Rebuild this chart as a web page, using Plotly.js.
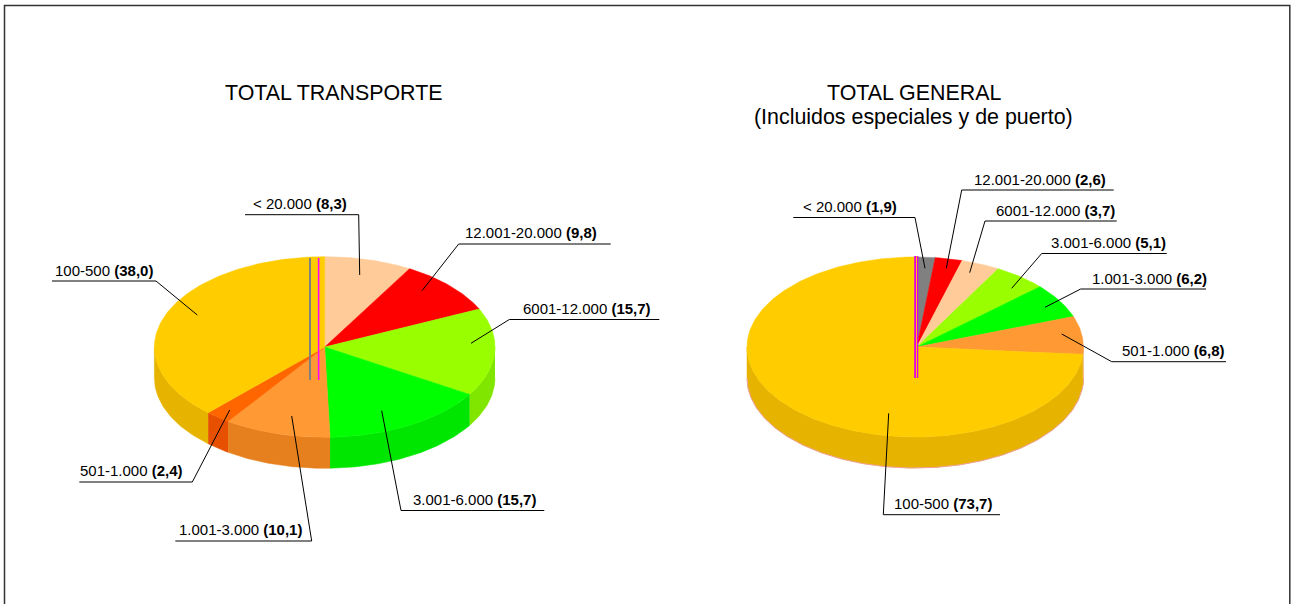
<!DOCTYPE html>
<html>
<head>
<meta charset="utf-8">
<script src="https://cdn.plot.ly/plotly-3.0.1.min.js"></script>
<style>html,body{margin:0;padding:0;background:#fff}#chart{width:1291px;height:604px}</style>
</head>
<body>
<div id="chart"></div>
<script>
// ---- data ----
const categories = ['< 20.000', '12.001-20.000', '6001-12.000', '3.001-6.000', '1.001-3.000', '501-1.000', '100-500'];
const valuesTransporte = [8.3, 9.8, 15.7, 15.7, 10.1, 2.4, 38.0];
const valuesGeneral = [1.9, 2.6, 3.7, 5.1, 6.2, 6.8, 73.7];
const titleTransporte = 'TOTAL TRANSPORTE';
const titleGeneral = 'TOTAL GENERAL';
const subtitleGeneral = '(Incluidos especiales y de puerto)';

// ---- styles ----
const topColorsTransporte = ['#FFCC99', '#FF0000', '#99FF00', '#00FF00', '#FF9933', '#FF6600', '#FFCC00'];
const rimColorsTransporte = ['#E6B89C', '#E60000', '#80E600', '#00E600', '#E6801E', '#E65000', '#E6B400'];
const topColorsGeneral = ['#808080', '#FF0000', '#FFCC99', '#99FF00', '#00FF00', '#FF9933', '#FFCC00'];
const rimColorsGeneral = ['#737373', '#E60000', '#E6B89C', '#80E600', '#00E600', '#E6801E', '#E6B400'];

// ---- layout geometry (pixels of the axis frame) ----
const pieTransporte = {cx: 324.7, cy: 347, rx: 170.3, ry: 90.3, depth: 31, apexDx: 0, rimEdge: null};
const pieGeneral = {cx: 915.2, cy: 347, rx: 168.2, ry: 90, depth: 31, apexDx: 1.5, rimEdge: '#F0A0A0'};

// label left edge, label centre y, then leader: underline outer end, elbow, tip inside the slice
const leadersTransporte = [
  {tx: 253, ty: 203, a: [245, 214.7], b: [358.7, 214.7], c: [359.7, 275]},
  {tx: 465, ty: 232, a: [610.7, 244], b: [458.7, 244], c: [422, 290.7]},
  {tx: 522.5, ty: 308, a: [659.3, 319.5], b: [509.3, 319.5], c: [471, 343.3]},
  {tx: 412.5, ty: 499, a: [544.3, 510.5], b: [401, 510.5], c: [381.7, 410.7]},
  {tx: 179.3, ty: 529, a: [175.3, 541], b: [311.7, 541], c: [291.7, 416]},
  {tx: 80.3, ty: 470, a: [79.3, 482], b: [192.3, 482], c: [229.7, 410]},
  {tx: 55, ty: 270, a: [52, 281], b: [156, 281], c: [197.3, 315]}
];
const leadersGeneral = [
  {tx: 803.3, ty: 206, a: [793.3, 217.5], b: [915, 217.5], c: [925, 268.3]},
  {tx: 974, ty: 179, a: [1113.7, 190], b: [961.7, 190], c: [946.3, 268.3]},
  {tx: 996, ty: 210, a: [1116.7, 221], b: [985, 221], c: [969.7, 272.7]},
  {tx: 1050.7, ty: 242, a: [1166.7, 253.5], b: [1041.7, 253.5], c: [1011.7, 288.3]},
  {tx: 1092.3, ty: 278, a: [1206, 289], b: [1080.7, 289], c: [1045, 307.3]},
  {tx: 1121.7, ty: 350, a: [1226, 361.7], b: [1111.7, 361.7], c: [1061.7, 334]},
  {tx: 894.3, ty: 503, a: [1000, 514.7], b: [883.3, 514.7], c: [888.7, 413.3]}
];
// thin vertical strokes crossing the pie centres: x, colour, width, y from, y to
const strokesTransporte = [[310, '#808080', 2, 258, 380], [318.6, '#FF00FF', 1.5, 258, 380]];
const strokesGeneral = [[916.5, '#FFCC00', 3, 256, 378], [915.1, '#E000E0', 1.8, 256, 378], [917.6, '#E000E0', 1.4, 256, 378]];

const DEG = Math.PI / 180;
function arc(pie, a0, a1, dy) {
  const xs = [], ys = [];
  const n = Math.max(2, Math.ceil(Math.abs(a1 - a0)));
  for (let i = 0; i <= n; i++) {
    const t = (a0 + (a1 - a0) * i / n) * DEG;
    xs.push(pie.cx + pie.rx * Math.sin(t));
    ys.push(pie.cy - pie.ry * Math.cos(t) + dy);
  }
  return {xs, ys};
}
function pieTraces(pie, values, tops, rims) {
  const total = values.reduce((s, v) => s + v, 0);
  const rimTraces = [], topTraces = [];
  let acc = 0;
  values.forEach((v, i) => {
    const a0 = acc / total * 360, a1 = (acc + v) / total * 360;
    acc += v;
    const label = categories[i] + ': ' + v.toFixed(1).replace('.', ',');
    // visible side wall: the part of the slice on the front half of the ellipse
    const f0 = Math.max(a0, 90), f1 = Math.min(a1, 270);
    if (f1 > f0) {
      const up = arc(pie, f0, f1, 0), dn = arc(pie, f1, f0, pie.depth);
      rimTraces.push({
        type: 'scatter', mode: 'lines', fill: 'toself', fillcolor: rims[i],
        x: up.xs.concat(dn.xs), y: up.ys.concat(dn.ys),
        line: {color: rims[i], width: 0.5}, name: label, hoverinfo: 'name'
      });
      if (pie.rimEdge) {
        rimTraces.push({
          type: 'scatter', mode: 'lines', x: dn.xs, y: dn.ys,
          line: {color: pie.rimEdge, width: 1}, hoverinfo: 'skip'
        });
      }
    }
    const e = arc(pie, a0, a1, 0);
    topTraces.push({
      type: 'scatter', mode: 'lines', fill: 'toself', fillcolor: tops[i],
      x: [pie.cx + pie.apexDx].concat(e.xs, [pie.cx + pie.apexDx]),
      y: [pie.cy].concat(e.ys, [pie.cy]),
      line: {color: tops[i], width: 0.5}, name: label, hoverinfo: 'name'
    });
  });
  return rimTraces.concat(topTraces);
}
function strokeTraces(list) {
  return list.map(s => ({
    type: 'scatter', mode: 'lines', x: [s[0], s[0]], y: [s[3], s[4]],
    line: {color: s[1], width: s[2]}, hoverinfo: 'skip'
  }));
}
function leaderShapes(list) {
  return list.map(l => ({
    type: 'path', xref: 'x', yref: 'y',
    path: 'M' + l.a.join(' ') + ' L' + l.b.join(' ') + ' L' + l.c.join(' '),
    line: {color: '#000', width: 1}, layer: 'above'
  }));
}
function labelAnnotations(list, values) {
  return list.map((l, i) => ({
    xref: 'x', yref: 'y', x: l.tx, y: l.ty, xanchor: 'left', yanchor: 'middle',
    showarrow: false, borderpad: 0, borderwidth: 0,
    text: categories[i] + ' <b>(' + values[i].toFixed(1).replace('.', ',') + ')</b>',
    font: {family: 'Liberation Sans, Arial, sans-serif', size: 15, color: '#000'}
  }));
}
function titleAnnotation(text, x, y) {
  return {
    xref: 'x', yref: 'y', x: x, y: y, xanchor: 'center', yanchor: 'middle',
    showarrow: false, borderpad: 0, text: text,
    font: {family: 'Liberation Sans, Arial, sans-serif', size: 21.4, color: '#000'}
  };
}

const traces = [].concat(
  pieTraces(pieTransporte, valuesTransporte, topColorsTransporte, rimColorsTransporte),
  strokeTraces(strokesTransporte),
  pieTraces(pieGeneral, valuesGeneral, topColorsGeneral, rimColorsGeneral),
  strokeTraces(strokesGeneral)
);

const layout = {
  width: 1291, height: 604,
  margin: {l: 0, r: 0, t: 0, b: 0, pad: 0},
  paper_bgcolor: '#fff', plot_bgcolor: '#fff',
  showlegend: false,
  xaxis: {range: [0, 1291], visible: false, fixedrange: true},
  yaxis: {range: [604, 0], visible: false, fixedrange: true},
  annotations: [].concat(
    [titleAnnotation(titleTransporte, 333.5, 92.5),
     titleAnnotation(titleGeneral, 913.5, 92.5),
     titleAnnotation(subtitleGeneral, 913.5, 116.5)],
    labelAnnotations(leadersTransporte, valuesTransporte),
    labelAnnotations(leadersGeneral, valuesGeneral)
  ),
  shapes: [{
    type: 'path', xref: 'x', yref: 'y',
    path: 'M4.5 610 L4.5 5.5 L1289.8 5.5 L1289.8 610',
    line: {color: '#333', width: 1.5}, layer: 'above'
  }].concat(leaderShapes(leadersTransporte), leaderShapes(leadersGeneral))
};

Plotly.newPlot('chart', traces, layout, {displayModeBar: false});
</script>
</body>
</html>
